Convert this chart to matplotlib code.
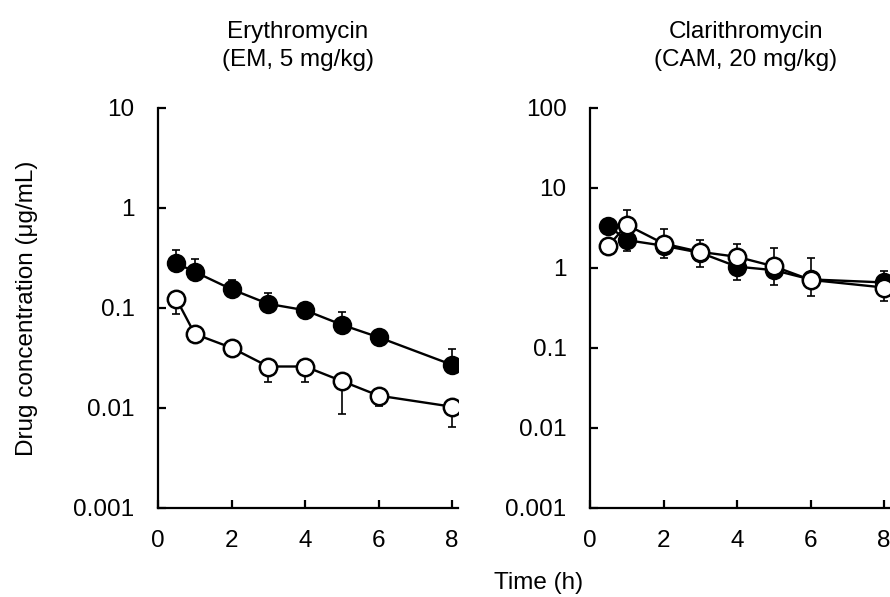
import matplotlib
matplotlib.use("Agg")
import matplotlib.pyplot as plt
from matplotlib.ticker import FixedLocator, FuncFormatter, NullLocator
import numpy as np

plt.rcParams['font.family'] = ['Liberation Sans', 'DejaVu Sans']

time_h = [0.5, 1, 2, 3, 4, 5, 6, 8]

# Erythromycin (EM, 5 mg/kg)
em_filled = [0.28, 0.23, 0.154, 0.11, 0.095, 0.068, 0.051, 0.027]
em_filled_upper = [0.38, 0.31, 0.19, 0.142, 0.105, 0.092, 0.055, 0.039]
em_open = [0.123, 0.055, 0.040, 0.026, 0.026, 0.0186, 0.0133, 0.0103]
em_open_lower = [0.087, 0.05, 0.037, 0.018, 0.018, 0.0088, 0.0105, 0.0065]

# Clarithromycin (CAM, 20 mg/kg)
cam_filled = [3.36, 2.23, 1.9, 1.55, 1.04, 0.94, 0.72, 0.66]
cam_filled_upper = [3.6, 5.3, 3.06, 2.25, 1.99, 1.77, 1.33, 0.92]
cam_open = [1.89, 3.46, 2.02, 1.59, 1.38, 1.05, 0.71, 0.57]
cam_open_lower = [1.8, 1.61, 1.35, 1.04, 0.71, 0.61, 0.45, 0.39]

panel_titles = ["Erythromycin\n(EM, 5 mg/kg)", "Clarithromycin\n(CAM, 20 mg/kg)"]
x_ticks = [0, 2, 4, 6, 8]
em_yticks = [0.001, 0.01, 0.1, 1, 10]
cam_yticks = [0.001, 0.01, 0.1, 1, 10, 100]

W, H = 890, 597
fig = plt.figure(figsize=(W / 100, H / 100), dpi=100)

FS = 17.5

def px_rect(left, top, right, bottom):
    return [left / W, 1 - bottom / H, (right - left) / W, (bottom - top) / H]

ax1 = fig.add_axes(px_rect(158, 108, 458, 508))
ax2 = fig.add_axes(px_rect(590, 108, 890, 508))

def draw(ax, filled, filled_up, opn, opn_lo, yticks):
    f = np.array(filled)
    fu = np.array(filled_up)
    o = np.array(opn)
    ol = np.array(opn_lo)
    # filled series, upper error bars
    ax.errorbar(time_h, f, yerr=[np.zeros_like(f), fu - f], fmt='none',
                ecolor='black', elinewidth=1.2, capsize=3, capthick=1.2, zorder=2)
    ax.plot(time_h, f, '-o', color='black', lw=1.7, ms=12.5,
            mfc='black', mec='black', mew=1.5, zorder=3)
    # open series, lower error bars
    ax.errorbar(time_h, o, yerr=[o - ol, np.zeros_like(o)], fmt='none',
                ecolor='black', elinewidth=1.2, capsize=3, capthick=1.2, zorder=4)
    ax.plot(time_h, o, '-o', color='black', lw=1.7, ms=12.5,
            mfc='white', mec='black', mew=1.8, zorder=5)

    ax.set_yscale('log')
    ax.set_ylim(yticks[0], yticks[-1])
    ax.set_xlim(0, 8.16)
    ax.yaxis.set_major_locator(FixedLocator(yticks))
    ax.yaxis.set_minor_locator(NullLocator())
    ax.yaxis.set_major_formatter(FuncFormatter(lambda v, p: '{:g}'.format(v)))
    ax.set_xticks(x_ticks)
    ax.set_xticklabels([str(t) for t in x_ticks])
    for s in ['top', 'right']:
        ax.spines[s].set_visible(False)
    for s in ['left', 'bottom']:
        ax.spines[s].set_linewidth(1.6)
    ax.tick_params(axis='both', direction='in', length=6, width=1.6,
                   labelsize=FS, colors='black')
    ax.tick_params(axis='x', pad=16)
    ax.tick_params(axis='y', pad=17)
    for sp in ax.spines.values():
        sp.set_clip_on(False)

draw(ax1, em_filled, em_filled_upper, em_open, em_open_lower, em_yticks)
draw(ax2, cam_filled, cam_filled_upper, cam_open, cam_open_lower, cam_yticks)

fig.text(298 / W, 1 - 46 / H, panel_titles[0], ha='center', va='center',
         fontsize=FS, linespacing=1.35)
fig.text(746 / W, 1 - 46 / H, panel_titles[1], ha='center', va='center',
         fontsize=FS, linespacing=1.35)
fig.text(27 / W, 1 - 308 / H, "Drug concentration (μg/mL)", rotation=90,
         ha='center', va='center', fontsize=FS)
fig.text(539 / W, 1 - 583 / H, "Time (h)", ha='center', va='center', fontsize=FS)

fig.savefig("out.png", dpi=100)
